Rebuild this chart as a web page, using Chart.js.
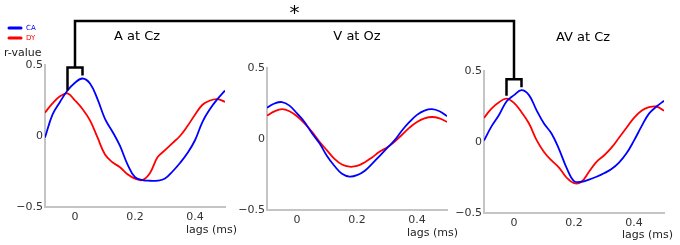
<!DOCTYPE html>
<html>
<head>
<meta charset="utf-8">
<script src="https://cdn.jsdelivr.net/npm/chart.js@4/dist/chart.umd.min.js"></script>
<style>
  body { margin: 0; background: #fff; }
  #wrap { position: relative; width: 680px; height: 245px; }
  #wrap canvas { position: absolute; left: 0; top: 0; }
</style>
</head>
<body>
<div id="wrap">
  <canvas id="c1"></canvas>
  <canvas id="c2"></canvas>
  <canvas id="c3"></canvas>
</div>
<script>
// lags (ms) shared by all three panels
const lags = [-0.1, -0.075, -0.05, -0.025, 0, 0.025, 0.05, 0.075, 0.1, 0.125, 0.15, 0.175,
  0.2, 0.225, 0.25, 0.275, 0.3, 0.325, 0.35, 0.375, 0.4, 0.425, 0.45, 0.475, 0.5];

const seriesNames = ['CA', 'DY'];
const panelTitles = ['A at Cz', 'V at Oz', 'AV at Cz'];
const xTicks = [0, 0.2, 0.4];
const yTicks = [-0.5, 0, 0.5];

// A at Cz
const caA = [-0.01, 0.15, 0.24, 0.32, 0.375, 0.405, 0.37, 0.26, 0.12, 0.03, -0.07, -0.2,
  -0.29, -0.31, -0.315, -0.315, -0.3, -0.25, -0.19, -0.12, -0.03, 0.1, 0.19, 0.26, 0.32];
const dyA = [0.165, 0.23, 0.28, 0.3, 0.25, 0.19, 0.11, -0.01, -0.13, -0.185, -0.22, -0.27,
  -0.3, -0.31, -0.26, -0.15, -0.1, -0.05, 0.0, 0.07, 0.15, 0.22, 0.25, 0.26, 0.24];

// V at Oz
const caV = [0.22, 0.25, 0.26, 0.235, 0.18, 0.12, 0.04, -0.03, -0.12, -0.19, -0.245, -0.265,
  -0.255, -0.225, -0.175, -0.12, -0.065, -0.01, 0.06, 0.12, 0.17, 0.2, 0.21, 0.195, 0.16];
const dyV = [0.165, 0.195, 0.21, 0.195, 0.16, 0.11, 0.05, -0.02, -0.08, -0.14, -0.18, -0.195,
  -0.19, -0.165, -0.13, -0.09, -0.06, -0.02, 0.03, 0.08, 0.12, 0.145, 0.155, 0.145, 0.12];

// AV at Cz
const caAV = [0.01, 0.11, 0.19, 0.285, 0.33, 0.365, 0.33, 0.225, 0.13, 0.06, -0.05, -0.18,
  -0.275, -0.28, -0.265, -0.245, -0.22, -0.19, -0.145, -0.08, 0.01, 0.11, 0.2, 0.25, 0.29];
const dyAV = [0.17, 0.235, 0.28, 0.305, 0.275, 0.21, 0.13, 0.015, -0.07, -0.13, -0.18, -0.25,
  -0.29, -0.28, -0.21, -0.14, -0.095, -0.04, 0.03, 0.1, 0.17, 0.22, 0.245, 0.25, 0.22];

const colors = ['#0000ff', '#ff0000'];
const FONT = 'DejaVu Sans';
const W = 680, H = 245, Y_W = 30, X_H = 20;

// plot area of each panel on the page
const panels = [
  { id: 'c1', title: panelTitles[0], data: [caA, dyA], area: { l: 45, r: 225, t: 65, b: 207 }, titleX: 137, titleY: 37, lagsX: 237, lagsY: 230, legend: true, bracket: true },
  { id: 'c2', title: panelTitles[1], data: [caV, dyV], area: { l: 267, r: 447, t: 68, b: 210 }, titleX: 357, titleY: 37, lagsX: 458, lagsY: 233 },
  { id: 'c3', title: panelTitles[2], data: [caAV, dyAV], area: { l: 484, r: 664, t: 71, b: 213 }, titleX: 583, titleY: 38, lagsX: 673, lagsY: 235, bracket: true }
];

const charts = [];

const fmt = v => (v < 0 ? '\u2212' : '') + Math.abs(v);

// find the peak of a series, in pixels
const peakOf = (chart, ds) => {
  const vals = chart.data.datasets[ds].data;
  let k = 0;
  for (let i = 1; i < vals.length; i++) if (vals[i].y > vals[k].y) k = i;
  return { x: chart.scales.x.getPixelForValue(lags[k]), y: chart.scales.y.getPixelForValue(vals[k].y) };
};

// small bracket over the two peaks, returns the stem point
const drawBracket = (ctx, chart) => {
  const p1 = peakOf(chart, 1), p0 = peakOf(chart, 0);
  const top = Math.min(p0.y, p1.y) - 11;
  ctx.beginPath();
  ctx.moveTo(p1.x, p1.y - 3);
  ctx.lineTo(p1.x, top);
  ctx.lineTo(p0.x, top);
  ctx.lineTo(p0.x, p0.y - 3);
  ctx.stroke();
  return { x: (p0.x + p1.x) / 2, y: top };
};

const textPlugin = {
  id: 'panelText',
  afterDraw(chart, args, opts) {
    const p = opts.panel;
    const ctx = chart.ctx;
    ctx.save();
    ctx.textBaseline = 'middle';
    ctx.fillStyle = '#000';
    ctx.font = `13px "${FONT}"`;
    ctx.textAlign = 'center';
    ctx.fillText(p.title, p.titleX, p.titleY);
    ctx.font = `11px "${FONT}"`;
    ctx.fillStyle = '#222';
    ctx.textAlign = 'right';
    ctx.fillText('lags (ms)', p.lagsX, p.lagsY);
    if (p.legend) {
      ctx.textAlign = 'left';
      ctx.fillText('r-value', 4, 53);
      ctx.font = `7px "${FONT}"`;
      seriesNames.forEach((name, i) => {
        const y = 28 + i * 10;
        ctx.strokeStyle = colors[i];
        ctx.lineWidth = 3;
        ctx.lineCap = 'round';
        ctx.beginPath();
        ctx.moveTo(9, y);
        ctx.lineTo(21, y);
        ctx.stroke();
        ctx.fillStyle = colors[i];
        ctx.fillText(name, 26, y);
      });
    }
    // connecting bracket, drawn on the top canvas once all panels exist
    if (p.bracket && charts.length === 3 && chart === charts[2]) {
      ctx.strokeStyle = '#000';
      ctx.lineWidth = 2.5;
      ctx.lineCap = 'butt';
      ctx.lineJoin = 'miter';
      const a = drawBracket(ctx, charts[0]);
      const b = drawBracket(ctx, chart);
      const yTop = 21;
      ctx.beginPath();
      ctx.moveTo(a.x, a.y);
      ctx.lineTo(a.x, yTop);
      ctx.lineTo(b.x, yTop);
      ctx.lineTo(b.x, b.y);
      ctx.stroke();
      ctx.fillStyle = '#000';
      ctx.font = `20px "${FONT}"`;
      ctx.textAlign = 'center';
      ctx.fillText('*', (a.x + b.x) / 2, 14);
    }
    ctx.restore();
  }
};

panels.forEach(p => {
  const cv = document.getElementById(p.id);
  cv.width = W;
  cv.height = H;
  const chart = new Chart(cv, {
    type: 'line',
    data: {
      labels: lags,
      datasets: p.data.map((vals, i) => ({
        label: seriesNames[i],
        data: vals.map((v, j) => ({ x: lags[j], y: v })),
        borderColor: colors[i],
        borderWidth: 1.8,
        pointRadius: 0,
        tension: 0.4,
        fill: false
      }))
    },
    options: {
      responsive: false,
      animation: false,
      events: [],
      layout: {
        padding: { left: p.area.l - Y_W, right: W - p.area.r, top: p.area.t, bottom: H - p.area.b - X_H }
      },
      plugins: {
        legend: { display: false },
        tooltip: { enabled: false },
        panelText: { panel: p }
      },
      scales: {
        x: {
          type: 'linear',
          min: -0.1,
          max: 0.5,
          afterBuildTicks: s => { s.ticks = xTicks.map(v => ({ value: v })); },
          afterFit: s => { s.height = X_H; },
          grid: { display: false, drawTicks: false },
          border: { display: true, color: '#c4c4c4', width: 2 },
          ticks: { padding: 4, maxRotation: 0, color: '#333', font: { family: FONT, size: 11 }, callback: v => fmt(v) }
        },
        y: {
          min: -0.5,
          max: 0.5,
          afterBuildTicks: s => { s.ticks = yTicks.map(v => ({ value: v })); },
          afterFit: s => { s.width = Y_W; },
          grid: { display: false, drawTicks: false },
          border: { display: true, color: '#c4c4c4', width: 2 },
          ticks: { padding: 2, color: '#333', font: { family: FONT, size: 11 }, callback: v => fmt(v) }
        }
      }
    },
    plugins: [textPlugin]
  });
  charts.push(chart);
});

charts[2].draw();
</script>
</body>
</html>
